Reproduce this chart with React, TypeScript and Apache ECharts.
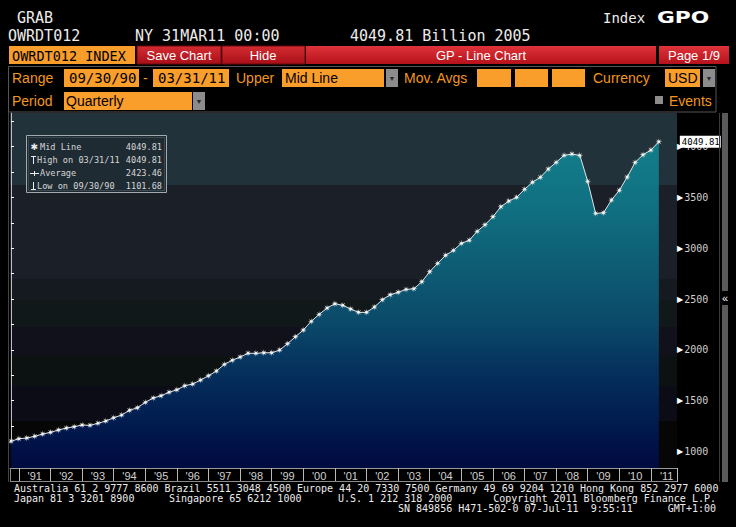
import React, { useEffect, useRef } from 'react';
import * as echarts from 'echarts';

// ---- data (quarterly, 09/30/90 .. 03/31/11) ----
const firstQuarter = '1990-Q3';
const midLine: number[] = [
  1101.68, 1126, 1133, 1150, 1172, 1189, 1212, 1231, 1244, 1261,
  1258, 1278, 1300, 1333, 1359, 1406, 1431, 1484, 1527, 1549,
  1583, 1608, 1648, 1664, 1704, 1746, 1792, 1858, 1898, 1930,
  1967, 1967, 1972, 1972, 1999, 2061, 2130, 2196, 2281, 2350,
  2412, 2455, 2439, 2403, 2370, 2370, 2422, 2494, 2543, 2567,
  2596, 2602, 2671, 2770, 2852, 2931, 2980, 3049, 3079, 3167,
  3232, 3311, 3409, 3465, 3502, 3581, 3650, 3699, 3780, 3846,
  3915, 3928, 3915, 3659, 3344, 3350, 3475, 3571, 3702, 3846,
  3921, 3967, 4049.81,
];
const yearLabels: string[] = [
  "'91", "'92", "'93", "'94", "'95", "'96", "'97", "'98", "'99", "'00",
  "'01", "'02", "'03", "'04", "'05", "'06", "'07", "'08", "'09", "'10", "'11",
];
const yLabelValues: number[] = [1000, 1500, 2000, 2500, 3000, 3500, 4000];
const yTickValues: number[] = [
  1000, 1250, 1500, 1750, 2000, 2250, 2500, 2750, 3000, 3250, 3500, 3750, 4000, 4250,
];
const lastValue = '4049.81';
const highValue = '4049.81';
const highDate = '03/31/11';
const averageValue = '2423.46';
const lowValue = '1101.68';
const lowDate = '09/30/90';

const MONO = '"DejaVu Sans Mono", "Liberation Mono", monospace';
const SANS = '"Liberation Sans", Arial, sans-serif';
const ORANGE = '#f99d2b';
const ORANGE_TXT = '#f0971f';
const WHITE = '#ececec';
const LEG = '#d6d6d6';

function T(text: string, x: number, y: number, o: any = {}) {
  return {
    type: 'text',
    x,
    y,
    z: 100,
    scaleX: o.scaleX || 1,
    style: {
      text,
      x: 0,
      y: 0,
      fill: o.color || WHITE,
      fontSize: o.size || 14,
      fontFamily: o.family || MONO,
      fontWeight: o.weight || 'normal',
      align: o.align || 'left',
      textAlign: o.align || 'left',
      verticalAlign: 'middle',
      textVerticalAlign: 'middle',
    },
  };
}
function R(x: number, y: number, w: number, h: number, fill: any, stroke?: string, z = 90) {
  return {
    type: 'rect',
    z,
    shape: { x, y, width: w, height: h },
    style: { fill, stroke: stroke || null, lineWidth: stroke ? 1 : 0 },
  };
}
function L(x1: number, y1: number, x2: number, y2: number, color: string, z = 95) {
  return {
    type: 'line',
    z,
    shape: { x1, y1, x2, y2 },
    style: { stroke: color, lineWidth: 1 },
  };
}

const STAR =
  'path://M10 5 L6.39 5.57 L8.54 8.54 L5.57 6.39 L5 10 L4.43 6.39 L1.46 8.54 L3.61 5.57 L0 5 L3.61 4.43 L1.46 1.46 L4.43 3.61 L5 0 L5.57 3.61 L8.54 1.46 L6.39 4.43 Z';

export default function App() {
  const ref = useRef<HTMLDivElement>(null);
  useEffect(() => {
    if (!ref.current) return;
    const chart = echarts.init(ref.current, null, { renderer: 'svg' });
    const G = echarts.graphic;
    const red = new G.LinearGradient(0, 0, 0, 1, [
      { offset: 0, color: '#e0333a' },
      { offset: 1, color: '#b5121b' },
    ]);
    const redDark = new G.LinearGradient(0, 0, 0, 1, [
      { offset: 0, color: '#d42c33' },
      { offset: 1, color: '#a80f17' },
    ]);
    const bands = [
      ['#22323a', 0, 0.203],
      ['#1a1f28', 0.203, 0.468],
      ['#141a20', 0.468, 0.527],
      ['#11181a', 0.527, 0.603],
      ['#10111a', 0.603, 0.684],
      ['#0c1212', 0.684, 0.77],
      ['#0b0c16', 0.77, 0.868],
      ['#060606', 0.868, 1],
    ];
    const bgStops: any[] = [];
    bands.forEach(([c, a, b]) => {
      bgStops.push({ offset: a, color: c });
      bgStops.push({ offset: b, color: c });
    });

    const xTickValues = yearLabels.map((_, k) => 1 + 4 * k);
    const xLabelValues = yearLabels.map((_, k) => 3 + 4 * k);

    const dd = (x: number, y: number, h: number) => [
      R(x, y, 12, h, '#8c8c8c'),
      T('▼', x + 6, y + h / 2, { color: '#2a2a2a', size: 7, align: 'center', family: SANS }),
    ];

    const graphics: any[] = [
      // header
      T('GRAB', 17, 18, { size: 15 }),
      T('OWRDT012', 8, 36, { size: 15 }),
      T('NY 31MAR11 00:00', 135, 36, { size: 15 }),
      T('4049.81 Billion 2005', 350, 36, { size: 15 }),
      T('Index', 603, 18, { size: 14 }),
      T('GPO', 657, 18, { size: 16, weight: 'bold', family: '"DejaVu Sans", sans-serif', scaleX: 1.36, color: '#ffffff' }),
      // red toolbar
      R(9, 46, 126, 18, ORANGE),
      T('OWRDT012 INDEX', 12, 55.5, { color: '#000', size: 13.5 }),
      R(137, 46, 84, 18, redDark, '#6a080c'),
      R(222, 46, 83, 18, redDark, '#6a080c'),
      R(306, 46, 350, 18, red),
      R(659, 46, 70, 18, red),
      T('Save Chart', 179, 55.5, { size: 13, family: SANS, align: 'center', color: '#fff' }),
      T('Hide', 263, 55.5, { size: 13, family: SANS, align: 'center', color: '#fff' }),
      T('GP - Line Chart', 481, 55.5, { size: 13, family: SANS, align: 'center', color: '#fff' }),
      T('Page 1/9', 694, 55.5, { size: 13, family: SANS, align: 'center', color: '#fff' }),
      // control box
      R(8.5, 66.5, 707.5, 45.5, null as any, '#555555', 80),
      T('Range', 12, 78, { color: ORANGE_TXT, family: SANS }),
      R(64, 69, 75, 18, ORANGE),
      T('09/30/90', 69, 78, { color: '#000', size: 14 }),
      T('-', 143, 78, { color: ORANGE_TXT, family: SANS }),
      R(153, 69, 76, 18, ORANGE),
      T('03/31/11', 158, 78, { color: '#000', size: 14 }),
      T('Upper', 236, 78, { color: ORANGE_TXT, family: SANS }),
      R(282, 69, 102, 18, ORANGE),
      T('Mid Line', 285, 78, { color: '#000', family: SANS }),
      ...dd(386, 69, 18),
      T('Mov. Avgs', 404, 78, { color: ORANGE_TXT, family: SANS }),
      R(477, 69, 34, 18, ORANGE),
      R(515, 69, 33, 18, ORANGE),
      R(552, 69, 33, 18, ORANGE),
      T('Currency', 593, 78, { color: ORANGE_TXT, family: SANS }),
      R(665, 69, 35, 18, ORANGE),
      T('USD', 668, 78, { color: '#000', family: SANS }),
      ...dd(703, 69, 18),
      T('Period', 12, 100.5, { color: ORANGE_TXT, family: SANS }),
      R(64, 92, 128, 18, ORANGE),
      T('Quarterly', 66, 100.5, { color: '#000', family: SANS }),
      ...dd(193, 92, 18),
      R(655, 96, 8, 8, '#8c8c8c'),
      T('Events', 669, 100.5, { color: ORANGE_TXT, family: SANS }),
      // frame pieces
      L(8.5, 112, 8.5, 482, '#444444'),
      L(10, 481.5, 677, 481.5, '#8a8a8a'),
      L(10.5, 468, 10.5, 482, '#8a8a8a'),
      L(677.5, 468, 677.5, 482, '#bdbdbd'),
      L(719.5, 113, 719.5, 482, '#3a3a3a'),
      R(722, 113, 6, 369, '#5a5a5a'),
      R(721, 291, 8, 14, '#000'),
      T('«', 725, 298, { size: 11, align: 'center', color: '#fff', family: SANS }),
      // legend box
      R(26.5, 135.5, 140, 57, '#1f2b33', '#a2aaae', 96),
      R(28.5, 137.5, 136, 53, null as any, '#3c4850', 97),
      T('✱', 30.5, 147, { size: 9, color: '#ececec', family: '"DejaVu Sans", sans-serif' }),
      T('Mid Line', 40, 147, { size: 8.6, color: LEG }),
      T(lastValue, 162, 147, { size: 8.6, color: LEG, align: 'right' }),
      L(31, 156.5, 36, 156.5, '#ececec', 101),
      L(33.5, 156.5, 33.5, 164, '#ececec', 101),
      T('High on ' + highDate, 37, 160, { size: 8.6, color: LEG }),
      T(highValue, 162, 160, { size: 8.6, color: LEG, align: 'right' }),
      L(30, 173.5, 39, 173.5, '#ececec', 101),
      L(34.5, 171, 34.5, 176, '#ececec', 101),
      T('Average', 40, 173, { size: 8.6, color: LEG }),
      T(averageValue, 162, 173, { size: 8.6, color: LEG, align: 'right' }),
      L(33.5, 182, 33.5, 189.5, '#ececec', 101),
      L(31, 189.5, 36, 189.5, '#ececec', 101),
      T('Low on ' + lowDate, 37, 186, { size: 8.6, color: LEG }),
      T(lowValue, 162, 186, { size: 8.6, color: LEG, align: 'right' }),
      // footer
      T('Australia 61 2 9777 8600 Brazil 5511 3048 4500 Europe 44 20 7330 7500 Germany 49 69 9204 1210 Hong Kong 852 2977 6000', 14, 488, { size: 10 }),
      T('Japan 81 3 3201 8900', 14, 498, { size: 10 }),
      T('Singapore 65 6212 1000', 169, 498, { size: 10 }),
      T('U.S. 1 212 318 2000', 338, 498, { size: 10 }),
      T('Copyright 2011 Bloomberg Finance L.P.', 716, 498, { size: 10, align: 'right' }),
      T('SN 849856 H471-502-0 07-Jul-11  9:55:11', 398, 508, { size: 10 }),
      T('GMT+1:00', 716, 508, { size: 10, align: 'right' }),
    ];

    chart.setOption({
      animation: false,
      backgroundColor: '#000',
      textStyle: { fontFamily: MONO },
      grid: {
        left: 10,
        right: 59,
        top: 113,
        bottom: 59,
        show: true,
        borderWidth: 0,
        backgroundColor: new G.LinearGradient(0, 0, 0, 1, bgStops),
      },
      xAxis: {
        type: 'value',
        min: -0.127,
        max: 84.3,
        splitLine: { show: false },
        axisLine: { show: true, lineStyle: { color: '#9a9a9a', width: 1 } },
        axisTick: {
          show: true,
          customValues: xTickValues,
          length: 14,
          inside: false,
          lineStyle: { color: '#b8b8b8', width: 1 },
        },
        axisLabel: {
          customValues: xLabelValues,
          formatter: (v: number) => yearLabels[Math.round((v - 3) / 4)] || '',
          color: '#d0d0d0',
          fontSize: 11,
          fontFamily: SANS,
          margin: 2,
        },
      },
      yAxis: {
        type: 'value',
        position: 'right',
        min: 838,
        max: 4332,
        splitLine: { show: false },
        axisLine: { show: true, lineStyle: { color: '#bdbdbd', width: 1 } },
        axisTick: {
          show: true,
          customValues: yTickValues,
          length: 3,
          lineStyle: { color: '#ffffff' },
        },
        axisLabel: {
          customValues: yLabelValues,
          margin: 0,
          formatter: (v: number) => `{t|▶}{n|${v}}`,
          rich: {
            t: { fontSize: 8, color: '#ffffff', padding: [0, 1, 0, 0], fontFamily: '"DejaVu Sans", sans-serif' },
            n: { fontSize: 10, color: '#cfcfcf', fontFamily: MONO },
          },
        },
      },
      graphic: graphics,
      series: [
        {
          type: 'line',
          name: 'Mid Line ' + firstQuarter,
          data: midLine.map((v, i) => [i, v]),
          symbol: STAR,
          symbolSize: 7,
          showSymbol: true,
          lineStyle: { color: '#e4e4e4', width: 1 },
          itemStyle: { color: '#f6f6f6' },
          areaStyle: {
            opacity: 1,
            color: new G.LinearGradient(0, 0, 0, 1, [
              { offset: 0, color: '#127e8a' },
              { offset: 0.2, color: '#107081' },
              { offset: 0.42, color: '#0d5872' },
              { offset: 0.55, color: '#0b4a6a' },
              { offset: 0.62, color: '#083e64' },
              { offset: 0.73, color: '#042c5a' },
              { offset: 0.85, color: '#011d50' },
              { offset: 0.95, color: '#000f45' },
              { offset: 1, color: '#000b3e' },
            ]),
          },
          endLabel: {
            show: true,
            formatter: () => lastValue,
            distance: 21,
            backgroundColor: '#ffffff',
            color: '#000000',
            fontFamily: MONO,
            fontSize: 9,
            padding: [2, 1, 1, 2],
          },
          z: 5,
        },
      ],
    });
    return () => chart.dispose();
  }, []);
  return (
    <div
      ref={ref}
      style={{ position: 'absolute', left: 0, top: 0, width: 736, height: 527, background: '#000' }}
    />
  );
}
